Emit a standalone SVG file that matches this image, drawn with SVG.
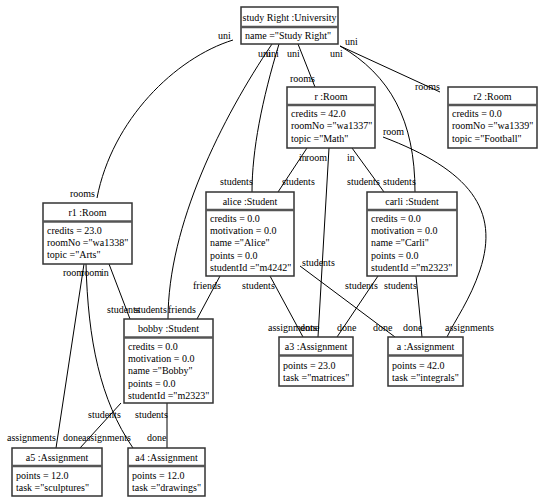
<svg xmlns="http://www.w3.org/2000/svg" width="549" height="504" viewBox="0 0 549 504">
<style>
text{font-family:"Liberation Serif","Times New Roman",serif;font-size:10px;fill:#000}
.box{fill:#fff;stroke:#333;stroke-width:1.5}
.div{stroke:#555;stroke-width:2.5}
.hd{text-anchor:middle}
#edges path,#edges line{fill:none;stroke:#000;stroke-width:1}
</style>
<rect width="549" height="504" fill="#fff"/>
<g id="edges">
<path d="M233,40 C175,58 112,120 97,198"/>
<path d="M272,44 C222,118 168,225 168,319"/>
<path d="M279,44 C262,100 252,150 252,192"/>
<line x1="298" y1="44" x2="315" y2="87"/>
<line x1="340" y1="46" x2="440" y2="92"/>
<path d="M340,46 C390,75 415,120 415,192"/>
<path d="M383,137 C470,170 500,210 480,270 C470,300 455,320 447,337"/>
<line x1="329" y1="148" x2="318" y2="337"/>
<line x1="307" y1="148" x2="278" y2="192"/>
<line x1="352" y1="148" x2="384" y2="192"/>
<line x1="84" y1="264" x2="56" y2="448"/>
<path d="M86,264 C88,340 100,400 133,448"/>
<line x1="109" y1="264" x2="130" y2="319"/>
<line x1="220" y1="276" x2="197" y2="319"/>
<line x1="270" y1="276" x2="303" y2="337"/>
<line x1="300" y1="266" x2="395" y2="337"/>
<line x1="378" y1="276" x2="337" y2="337"/>
<line x1="416" y1="276" x2="422" y2="337"/>
<line x1="121" y1="403" x2="80" y2="448"/>
<line x1="167" y1="403" x2="167" y2="448"/>
</g>
<g id="labels">
<text x="218" y="38.5">uni</text>
<text x="70" y="196.5">rooms</text>
<text x="258" y="56.5">uni</text>
<text x="266" y="56.5">uni</text>
<text x="287" y="56.5">uni</text>
<text x="290" y="81.5">rooms</text>
<text x="345" y="44.5">uni</text>
<text x="330" y="57">uni</text>
<text x="415" y="90">rooms</text>
<text x="383" y="135">room</text>
<text x="299" y="161">in</text>
<text x="306" y="161">room</text>
<text x="347" y="161">in</text>
<text x="220" y="185">students</text>
<text x="282" y="185">students</text>
<text x="347" y="185">students</text>
<text x="383" y="185">students</text>
<text x="63" y="276">room</text>
<text x="81" y="276">room</text>
<text x="101" y="276">in</text>
<text x="107" y="313">students</text>
<text x="134" y="313">students</text>
<text x="168" y="313">friends</text>
<text x="193" y="289">friends</text>
<text x="242" y="289">students</text>
<text x="302" y="266">students</text>
<text x="345" y="289">students</text>
<text x="384" y="289">students</text>
<text x="268" y="331">assignments</text>
<text x="300" y="331">done</text>
<text x="337" y="331">done</text>
<text x="373" y="331">done</text>
<text x="403" y="331">done</text>
<text x="445" y="331">assignments</text>
<text x="88" y="417.5">students</text>
<text x="135" y="417.5">students</text>
<text x="7" y="441">assignments</text>
<text x="63" y="441">done</text>
<text x="82" y="441">assignments</text>
<text x="147" y="441">done</text>
</g>
<g id="university">
<rect class="box" x="241" y="7" width="97" height="37"/>
<line class="div" x1="241" y1="27" x2="338" y2="27"/>
<text class="hd" x="289.5" y="20.5">study Right :University</text>
<text x="245" y="39">name ="Study Right"</text>
</g>
<g id="r">
<rect class="box" x="287" y="87" width="88" height="61"/>
<line class="div" x1="287" y1="105" x2="375" y2="105"/>
<text class="hd" x="331" y="99.5">r :Room</text>
<text x="291" y="117">credits = 42.0</text>
<text x="291" y="129.3">roomNo ="wa1337"</text>
<text x="291" y="141.6">topic ="Math"</text>
</g>
<g id="r2">
<rect class="box" x="448" y="87" width="89" height="61"/>
<line class="div" x1="448" y1="105" x2="537" y2="105"/>
<text class="hd" x="492.5" y="99.5">r2 :Room</text>
<text x="452" y="117">credits = 0.0</text>
<text x="452" y="129.3">roomNo ="wa1339"</text>
<text x="452" y="141.6">topic ="Football"</text>
</g>
<g id="r1">
<rect class="box" x="43" y="203" width="89" height="61"/>
<line class="div" x1="43" y1="221.5" x2="132" y2="221.5"/>
<text class="hd" x="87.5" y="215.5">r1 :Room</text>
<text x="47" y="233.5">credits = 23.0</text>
<text x="47" y="245.8">roomNo ="wa1338"</text>
<text x="47" y="258.1">topic ="Arts"</text>
</g>
<g id="alice">
<rect class="box" x="206" y="192" width="88" height="84"/>
<line class="div" x1="206" y1="210" x2="294" y2="210"/>
<text class="hd" x="250" y="204.5">alice :Student</text>
<text x="210" y="222">credits = 0.0</text>
<text x="210" y="234.2">motivation = 0.0</text>
<text x="210" y="246.4">name ="Alice"</text>
<text x="210" y="258.6">points = 0.0</text>
<text x="210" y="270.8">studentId ="m4242"</text>
</g>
<g id="carli">
<rect class="box" x="367" y="192" width="90" height="84"/>
<line class="div" x1="367" y1="210" x2="457" y2="210"/>
<text class="hd" x="412" y="204.5">carli :Student</text>
<text x="371" y="222">credits = 0.0</text>
<text x="371" y="234.2">motivation = 0.0</text>
<text x="371" y="246.4">name ="Carli"</text>
<text x="371" y="258.6">points = 0.0</text>
<text x="371" y="270.8">studentId ="m2323"</text>
</g>
<g id="bobby">
<rect class="box" x="124" y="319" width="89" height="84"/>
<line class="div" x1="124" y1="337.5" x2="213" y2="337.5"/>
<text class="hd" x="168.5" y="331.5">bobby :Student</text>
<text x="128" y="350">credits = 0.0</text>
<text x="128" y="362.2">motivation = 0.0</text>
<text x="128" y="374.4">name ="Bobby"</text>
<text x="128" y="386.6">points = 0.0</text>
<text x="128" y="398.8">studentId ="m2323"</text>
</g>
<g id="a3">
<rect class="box" x="279" y="337" width="74" height="49"/>
<line class="div" x1="279" y1="355.5" x2="353" y2="355.5"/>
<text class="hd" x="316" y="349.5">a3 :Assignment</text>
<text x="283" y="368.5">points = 23.0</text>
<text x="283" y="380.5">task ="matrices"</text>
</g>
<g id="a">
<rect class="box" x="388" y="337" width="75" height="49"/>
<line class="div" x1="388" y1="355.5" x2="463" y2="355.5"/>
<text class="hd" x="425.5" y="349.5">a :Assignment</text>
<text x="392" y="368.5">points = 42.0</text>
<text x="392" y="380.5">task ="integrals"</text>
</g>
<g id="a5">
<rect class="box" x="12" y="448" width="90" height="48"/>
<line class="div" x1="12" y1="466" x2="102" y2="466"/>
<text class="hd" x="57" y="460.5">a5 :Assignment</text>
<text x="16" y="478.5">points = 12.0</text>
<text x="16" y="490.5">task ="sculptures"</text>
</g>
<g id="a4">
<rect class="box" x="128" y="448" width="77" height="48"/>
<line class="div" x1="128" y1="466" x2="205" y2="466"/>
<text class="hd" x="166.5" y="460.5">a4 :Assignment</text>
<text x="132" y="478.5">points = 12.0</text>
<text x="132" y="490.5">task ="drawings"</text>
</g>
</svg>
